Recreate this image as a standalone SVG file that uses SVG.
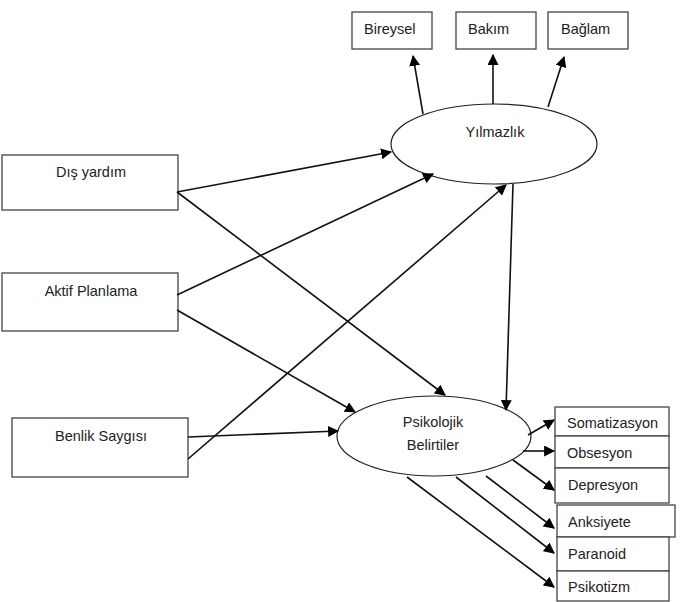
<svg xmlns="http://www.w3.org/2000/svg" width="680" height="602" viewBox="0 0 680 602">
<style>
.box{fill:#fff;stroke:#444;stroke-width:1.3}
.ell{fill:#fff;stroke:#222;stroke-width:1.2}
.t{font-family:"Liberation Sans",Arial,sans-serif;font-size:14.5px;fill:#222}
.c{text-anchor:middle}
.ln{stroke:#111;stroke-width:1.6;fill:none;marker-end:url(#ah)}
</style>
<defs>
<marker id="ah" viewBox="0 0 10 10" refX="9" refY="5" markerWidth="11" markerHeight="11" markerUnits="userSpaceOnUse" orient="auto">
<path d="M0,0 L10,5 L0,10 z" fill="#000"/>
</marker>
</defs>
<rect width="680" height="602" fill="#fff"/>
<g id="bireysel"><rect class="box" x="352" y="12" width="80" height="37"/><text class="t" x="364" y="34">Bireysel</text></g>
<g id="bakim"><rect class="box" x="456" y="12" width="80" height="37"/><text class="t" x="468" y="34">Bakım</text></g>
<g id="baglam"><rect class="box" x="548" y="12" width="80" height="37"/><text class="t" x="561" y="34">Bağlam</text></g>
<g id="yilmazlik"><ellipse class="ell" cx="494" cy="144" rx="103" ry="40"/><text class="t c" x="495" y="137">Yılmazlık</text></g>
<g id="dis-yardim"><rect class="box" x="2" y="155" width="176" height="55"/><text class="t c" x="91" y="177">Dış yardım</text></g>
<g id="aktif-planlama"><rect class="box" x="2" y="273" width="176" height="58"/><text class="t c" x="91" y="296">Aktif Planlama</text></g>
<g id="benlik-saygisi"><rect class="box" x="12" y="418" width="176" height="59"/><text class="t c" x="101" y="441">Benlik Saygısı</text></g>
<g id="psikolojik"><ellipse class="ell" cx="434" cy="436" rx="97" ry="40"/><text class="t c" x="433" y="427">Psikolojik</text><text class="t c" x="433" y="450">Belirtiler</text></g>
<g id="somatizasyon"><rect class="box" x="555" y="407" width="114" height="29"/><text class="t" x="567" y="428">Somatizasyon</text></g>
<g id="obsesyon"><rect class="box" x="555" y="436" width="114" height="32"/><text class="t" x="567" y="458">Obsesyon</text></g>
<g id="depresyon"><rect class="box" x="555" y="468" width="114" height="35"/><text class="t" x="568" y="490">Depresyon</text></g>
<g id="anksiyete"><rect class="box" x="557" y="505" width="118" height="32"/><text class="t" x="568" y="527">Anksiyete</text></g>
<g id="paranoid"><rect class="box" x="557" y="537" width="112" height="34"/><text class="t" x="568" y="559">Paranoid</text></g>
<g id="psikotizm"><rect class="box" x="557" y="571" width="112" height="30"/><text class="t" x="568" y="592">Psikotizm</text></g>
<g id="connectors">
<line class="ln" x1="423" y1="114" x2="413" y2="56"/>
<line class="ln" x1="493" y1="104" x2="493" y2="55"/>
<line class="ln" x1="548" y1="107" x2="564" y2="57"/>
<line class="ln" x1="177" y1="192" x2="391" y2="152"/>
<line class="ln" x1="177" y1="192" x2="445" y2="395"/>
<line class="ln" x1="177" y1="295" x2="433" y2="174"/>
<line class="ln" x1="177" y1="310" x2="355" y2="412"/>
<line class="ln" x1="188" y1="437" x2="338" y2="431"/>
<line class="ln" x1="188" y1="459" x2="506" y2="185"/>
<line class="ln" x1="513" y1="184" x2="506" y2="410"/>
<line class="ln" x1="528" y1="435" x2="554" y2="420"/>
<line class="ln" x1="523" y1="451" x2="554" y2="451"/>
<line class="ln" x1="513" y1="460" x2="554" y2="490"/>
<line class="ln" x1="486" y1="476" x2="554" y2="528"/>
<line class="ln" x1="456" y1="477" x2="554" y2="553"/>
<line class="ln" x1="407" y1="477" x2="554" y2="587"/>
</g>
</svg>
